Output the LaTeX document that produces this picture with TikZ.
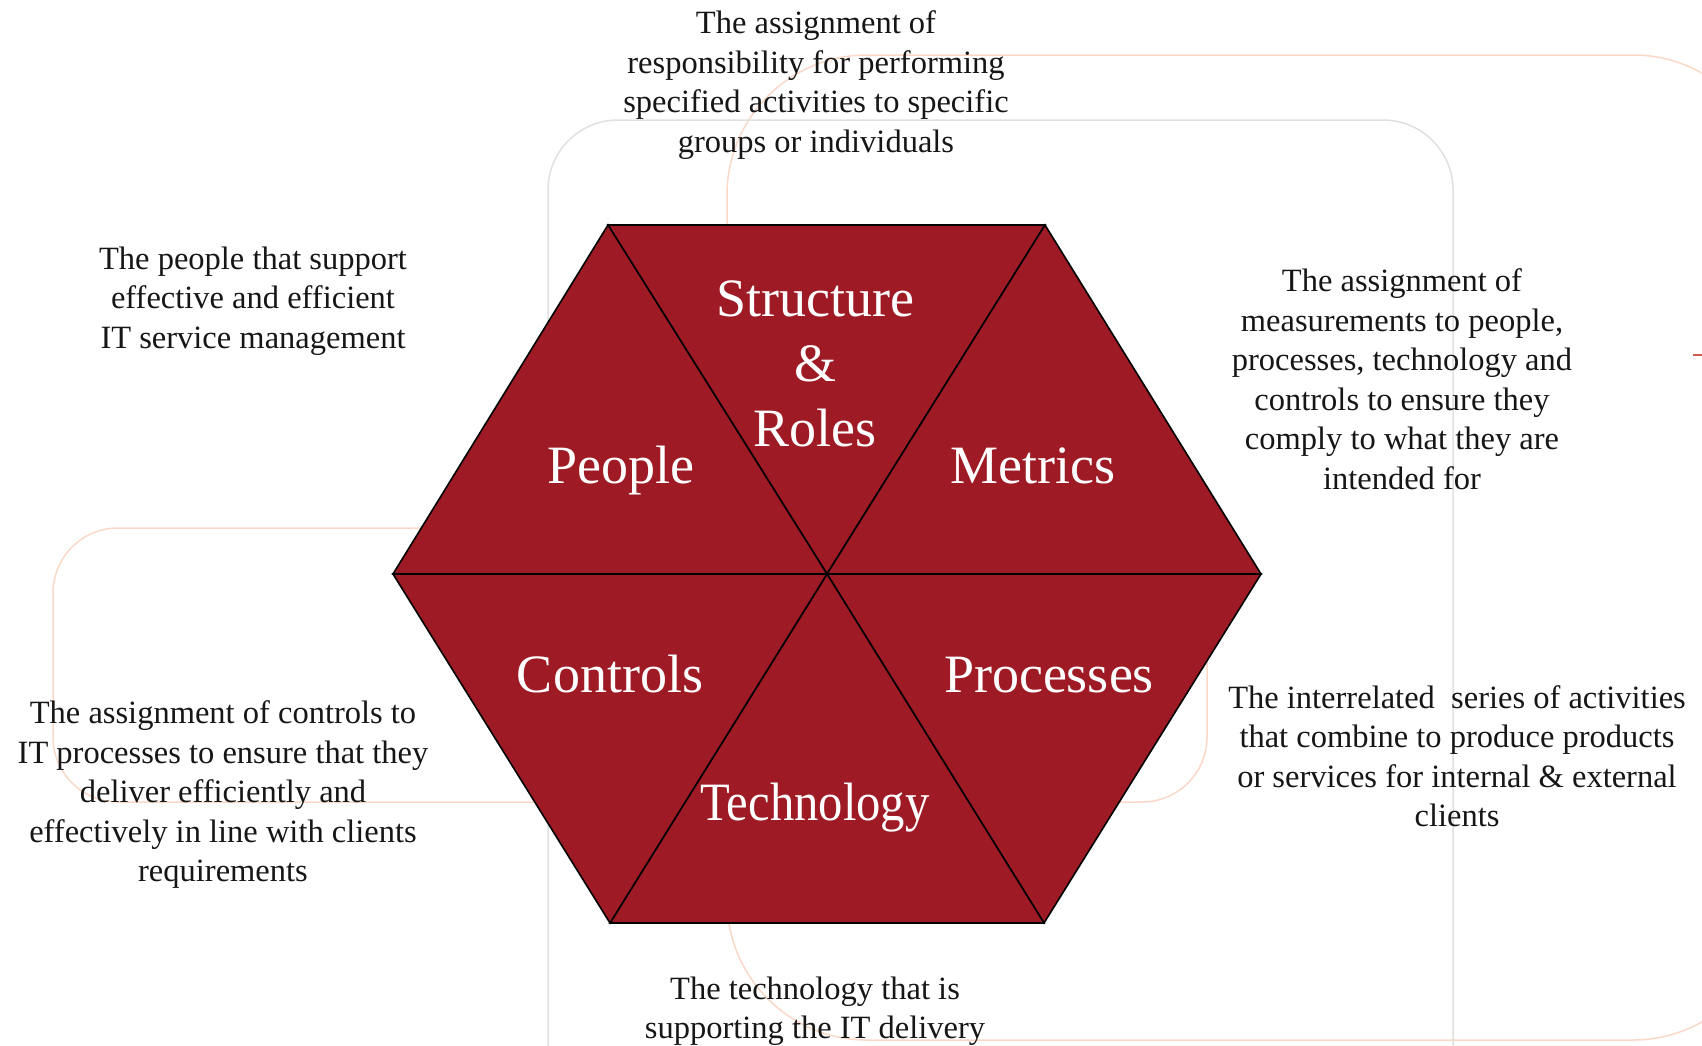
\documentclass[tikz,border=0pt]{standalone}
\usepackage{fontspec}
\setmainfont{Liberation Serif}
\definecolor{hexred}{RGB}{158,27,37}
\definecolor{framegray}{RGB}{224,224,224}
\definecolor{frameorange}{RGB}{250,216,200}
\definecolor{tickred}{RGB}{205,90,80}
\definecolor{desctext}{RGB}{22,22,22}
\tikzset{
  tri/.style={fill=hexred, draw=black, line width=1.6pt, line join=miter},
  lbl/.style={text=white, font=\fontsize{54}{65}\selectfont, align=center, inner sep=0pt},
  desc/.style={text=desctext, font=\fontsize{32.5}{39.5}\selectfont, align=center, inner sep=0pt},
  bgframe/.style={line width=1.5pt, rounded corners=#1},
}
\begin{document}
\begin{tikzpicture}[x=1pt, y=-1pt]
\useasboundingbox (0,0) rectangle (1702,1045);
\clip (0,0) rectangle (1702,1045);
% faint frames behind the hexagon
\draw[bgframe=140pt, frameorange] (727,55) rectangle (1773,1040);
\draw[bgframe=70pt, framegray] (548,120) rectangle (1453,1120);
\draw[bgframe=65pt, frameorange] (53,528) rectangle (1207,802);
\coordinate (tick) at (1693,355);
\draw[tickred, line width=1.5pt] (tick) -- ++(12,0);

% hexagon of six triangles
\coordinate (c) at (827,574);
\coordinate (v1) at (608,225);
\coordinate (v2) at (1045,225);
\coordinate (v3) at (1261,574);
\coordinate (v4) at (1044,923);
\coordinate (v5) at (610,923);
\coordinate (v6) at (393,574);
\foreach \a/\b in {v1/v2, v2/v3, v3/v4, v4/v5, v5/v6, v6/v1}
  \filldraw[tri] (c) -- (\a) -- (\b) -- cycle;

\node[lbl] (roles) at (815,364) {Structure\\\&\\Roles};
\node[lbl, anchor=base] (people) at (621,483) {People};
\node[lbl, anchor=base] (metrics) at (1033,483) {Metrics};
\node[lbl, anchor=base] (controls) at (610,692) {Controls};
\node[lbl, anchor=base] (processes) at (1049,692) {Processes};
\node[lbl, anchor=base] (technology) at (815,820) {\scalebox{0.9}[1]{Technology}};

% descriptions
\node[desc] (d-roles) at (816,85) {The assignment of\\responsibility for performing\\specified activities to specific\\groups or individuals};
\node[desc] (d-people) at (253,301) {The people that support\\effective and efficient\\IT service management};
\node[desc] (d-metrics) at (1402,379) {The assignment of\\measurements to people,\\processes, technology and\\controls to ensure they\\comply to what they are\\intended for};
\node[desc] (d-controls) at (223,795) {The assignment of controls to\\IT processes to ensure that they\\deliver efficiently and\\effectively in line with clients\\requirements};
\node[desc] (d-processes) at (1457,756) {The interrelated\ \ series of activities\\that combine to produce products\\or services for internal \& external\\clients};
\node[desc] (d-technology) at (815,1011) {The technology that is\\supporting the IT delivery};
\end{tikzpicture}
\end{document}
